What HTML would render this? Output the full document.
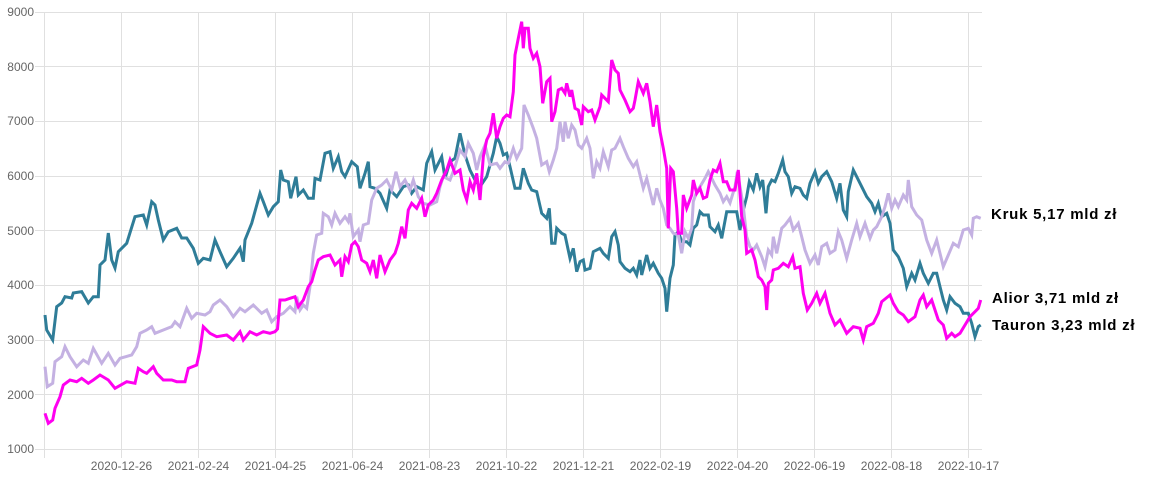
<!DOCTYPE html>
<html>
<head>
<meta charset="utf-8">
<style>
html,body{margin:0;padding:0;background:#fff;}
body{width:1150px;height:482px;overflow:hidden;}
svg{display:block;}
.ax{font-family:"Liberation Sans",sans-serif;font-size:12px;fill:#666;}
.lb{font-family:"Liberation Sans",sans-serif;font-size:15px;font-weight:bold;fill:#000;letter-spacing:0.75px;}
</style>
</head>
<body>
<svg width="1150" height="482" viewBox="0 0 1150 482" xmlns="http://www.w3.org/2000/svg">
<g stroke="#e0e0e0" stroke-width="1" fill="none">
<line x1="35" y1="12.5" x2="982" y2="12.5"/>
<line x1="35" y1="66.5" x2="982" y2="66.5"/>
<line x1="35" y1="121.5" x2="982" y2="121.5"/>
<line x1="35" y1="176.5" x2="982" y2="176.5"/>
<line x1="35" y1="230.5" x2="982" y2="230.5"/>
<line x1="35" y1="285.5" x2="982" y2="285.5"/>
<line x1="35" y1="340.5" x2="982" y2="340.5"/>
<line x1="35" y1="394.5" x2="982" y2="394.5"/>
<line x1="35" y1="449.5" x2="982" y2="449.5"/>
<line x1="44.5" y1="12" x2="44.5" y2="458"/>
<line x1="121.5" y1="12" x2="121.5" y2="458"/>
<line x1="198.5" y1="12" x2="198.5" y2="458"/>
<line x1="275.5" y1="12" x2="275.5" y2="458"/>
<line x1="352.5" y1="12" x2="352.5" y2="458"/>
<line x1="429.5" y1="12" x2="429.5" y2="458"/>
<line x1="506.5" y1="12" x2="506.5" y2="458"/>
<line x1="583.5" y1="12" x2="583.5" y2="458"/>
<line x1="660.5" y1="12" x2="660.5" y2="458"/>
<line x1="737.5" y1="12" x2="737.5" y2="458"/>
<line x1="814.5" y1="12" x2="814.5" y2="458"/>
<line x1="891.5" y1="12" x2="891.5" y2="458"/>
<line x1="968.5" y1="12" x2="968.5" y2="458"/>
</g>
<g class="ax" text-anchor="end">
<text x="34" y="16">9000</text>
<text x="34" y="71">8000</text>
<text x="34" y="125">7000</text>
<text x="34" y="180">6000</text>
<text x="34" y="235">5000</text>
<text x="34" y="289">4000</text>
<text x="34" y="344">3000</text>
<text x="34" y="399">2000</text>
<text x="34" y="453">1000</text>
</g>
<g class="ax" text-anchor="middle">
<text x="121.5" y="470">2020-12-26</text>
<text x="198.5" y="470">2021-02-24</text>
<text x="275.5" y="470">2021-04-25</text>
<text x="352.5" y="470">2021-06-24</text>
<text x="429.5" y="470">2021-08-23</text>
<text x="506.5" y="470">2021-10-22</text>
<text x="583.5" y="470">2021-12-21</text>
<text x="660.5" y="470">2022-02-19</text>
<text x="737.5" y="470">2022-04-20</text>
<text x="814.5" y="470">2022-06-19</text>
<text x="891.5" y="470">2022-08-18</text>
<text x="968.5" y="470">2022-10-17</text>
</g>
<g fill="none" stroke-width="3" stroke-linejoin="miter" stroke-miterlimit="4">
<polyline stroke="#2f7d98" points="45,315 46.7,330 52.7,340 56.7,306.7 61.7,303 65,296.7 71.7,298 73.3,293 81.7,291.7 88.3,303 93.3,296.7 98.3,296.7 100,265 105,260 108.3,233 111.7,260 115,268 118.3,251.7 126.7,243.3 135,216.7 143.3,215 146.7,225 151.7,201.7 155,205 158.3,220 163.3,240 168.3,231.7 176.7,228.3 181.7,238 186.7,238 193.3,248.3 198.3,263.3 203.3,258.3 210,260 215,240 220,251.7 226.7,266.7 233.3,258.3 240,248.3 243.3,261.7 245,240 251.7,223.3 260,193.3 263.3,201.7 268.3,215 273.3,206.7 278.3,201.7 280.7,170 283.3,180 288.3,181.7 290.7,198.3 296,176.7 298.3,195 303.3,190 308.3,198.3 313.3,198.3 315,178.3 320,180 325,153.3 330,151.7 333.3,168.3 338.3,156.7 341.7,171.7 345,176.7 351.7,161.7 357.3,166.7 360,188.3 365,173.3 368.3,161.7 370,186.7 375,188.3 380,193.3 386.7,208.3 390,190 396.7,196.7 403.3,186.7 408.3,185 411.7,193.3 416.7,186.7 423.3,190 426.7,163.3 431.7,151.7 435,170 441.7,156.7 445,178.3 450,161.7 455,158.3 460,133.3 465,155 470,170 475,180 480,186.7 486.7,176.7 493.3,153.3 496.7,136.7 500,143.3 503.3,155 506.7,153.3 510,166.7 515,188.3 520,188.3 523.3,168.3 528.3,183.3 531.7,190 536.7,191.7 541.7,213.3 546.7,218.3 549.3,208.3 551.7,243.3 555,243.3 556.7,228.3 561.7,233.3 565,235 570,258.3 573.3,248.3 576.7,271.7 580,261.7 583.3,260 585,270 590,268.3 593.3,251.7 600,248.3 603.3,253.3 608.3,258.3 611.7,236.7 615,231.7 618.3,245 620,261.7 625,268.3 630,271.7 633.3,268.3 636.7,275 640,260 641.7,275 646.7,255 650,268.3 653.3,263.3 658.3,273.3 661.7,278.3 665,288.3 666.7,311.7 670,278.3 673.3,265 675,235 678.3,231.7 681.7,241.7 686.7,241.7 690,245 693.3,228.3 696.7,225 700,211.7 703.3,215 708.3,215 710,226.7 715,231.7 718.3,225 721.7,238.3 726.7,211.7 730,211.7 736.7,211.7 740,230 743.3,210 746.7,196.7 749.3,181.7 753.3,190 756.7,173.3 760,186.7 762.7,180 766,213.3 768.3,186.7 771.7,180 775,181.7 778.3,173.3 782.7,160 785,171.7 788.3,176.7 791.7,193.3 795,186.7 800,188.3 803.3,195 806.7,198.3 810,183.3 815,171.7 818.3,183.3 821.7,176.7 826.7,171.7 831.7,181.7 836.7,198.3 840,183.3 843.3,210 846.7,216.7 848.3,191.7 853.3,170 856.7,176.7 861.7,186.7 866.7,196.7 871.7,203.3 875,211.7 878.3,203.3 881.7,216.7 886.7,213.3 890,223.3 893.3,250 898.3,256.7 903.3,268.3 906.7,286.7 911.7,273.3 915,280 920,263.3 923.3,273.3 928.3,283.3 933.3,273.3 936.7,273.3 940,286.7 943.3,300 946.7,310 950,296.7 955,303.3 960,306.7 963.3,313.3 968.3,313.3 971.7,323.3 975,336.7 978.3,326.7 980.7,325"/>
<polyline stroke="#c4b1e2" points="45,366.7 47.3,386.7 52.7,383.3 55,361.7 61.7,356.7 65,346.7 70,356.7 76.7,366.7 83.3,360 88.3,363.3 93.3,348.3 101.7,363.3 108.3,353.3 115,365 120,358.3 131.7,355 136.7,346.7 140,333.3 146.7,330 151.7,326.7 155,333.3 163.3,330 171.7,326.7 175,321.7 180,326.7 186.7,308.3 191.7,318.3 196.7,313.3 205,315 210,311.7 213.3,305 220,300 226.7,306.7 233.3,316.7 240,308.3 245,311.7 253.3,305 261.7,313.3 266.7,310 271.7,321.7 276.7,316.7 283.3,313.3 290,306.7 295,311.7 296.7,296.7 300,310 303.3,305 306.7,308.3 310,286.7 313.3,253.3 316.7,235 321.7,233.3 323.3,213.3 328.3,216.7 331.7,225 335,213.3 340,223.3 345,216.7 348.3,221.7 350,213.3 353.3,236.7 358.3,230 360,241.7 363.3,225 368.3,223.3 371.7,200 376.7,188.3 381.7,185 386.7,180 391.7,190 396,171.7 400,186.7 405,180 410,190 413.3,180 418.3,196.7 423.3,203.3 430,205 436.7,201.7 440,186.7 443.3,176.7 450,180 455,166.7 460,150 465,156.7 468.3,143.3 473.3,153.3 476.7,170 480,156.7 485,145 490,165 496.7,163.3 500,168.3 505,161.7 508.3,163.3 513.3,148.3 516.7,158.3 521.7,148.3 524,105 528.3,115 533.3,128.3 536.7,138.3 541.7,165 546.7,161.7 549.3,171.7 553.3,160 556.7,148.3 560,121.7 563.3,141.7 565,121.7 568.3,138.3 571.7,125 575,130 578.3,145 581.7,148.3 586.7,138.3 590,148.3 593.3,178.3 596.7,161.7 600,168.3 603.3,151.7 608.3,166.7 611.7,150 615,148.3 620,138.3 623.3,146.7 628.3,158.3 633.3,166.7 636.7,161.7 640,175 643.3,188.3 646.7,178.3 650,191.7 653.3,205 656.7,188.3 660,200 663.3,208.3 666.7,225 670,228.3 673.3,233.3 678.3,235 681.7,253.3 685,231.7 688.3,238.3 691.7,228.3 693.3,201.7 696.7,191.7 700,186.7 705,178.3 708.3,171.7 711.7,178.3 715,185 720,193.3 723.3,201.7 726.7,196.7 730,203 735,186.7 737.3,171.7 740,186.7 743.3,206.7 746.7,236.7 750,246.7 753.3,250 756.7,245 761.7,256.7 765,266.7 768.3,250 771.7,255 773.3,236.7 776.7,253.3 781.7,228.3 785,225 790,218.3 793.3,230 798.3,223.3 801.7,236.7 805,250 810,263.3 815,255 818.3,265 821.7,246.7 826.7,243.3 830,253.3 835,250 838.3,231.7 841.7,240 846.7,258.3 851.7,240 856.7,223.3 860,236.7 865,223.3 870,238.3 873.3,230 876.7,226.7 881.7,216.7 885,206.7 888.3,193.3 891.7,208.3 895,200 898.3,206.7 903.3,195 906.7,200 908.3,180 911.7,206.7 916.7,215 921.7,220 926.7,240 931.7,253.3 936.7,240 940,253.3 943.3,266.7 948.3,255 953.3,243.3 958.3,246.7 963.3,230 968.3,228.3 971.7,235 973.3,218.3 976.7,216.7 980.7,218.3"/>
<polyline stroke="#ff00f0" points="45,413.3 48.3,423.3 52.7,420 55,408.3 60,396.7 63.3,385 70,380 76.7,381.7 81.7,378.3 88.3,383.3 93.3,380 100,375 108.3,380 115,388.3 126.7,381.7 135,383.3 138.3,368.3 143.3,371.7 146.7,373.3 153.3,366.7 156.7,373.3 163.3,380 171.7,380 176.7,381.7 185,381.7 188.3,368.3 196.7,365 200,350 203.3,326.7 210,333.3 216.7,336.7 226.7,335 233.3,340 240,331.7 243.3,340 250,331.7 256.7,335 263.3,331.7 270,333.3 275,331.7 277.5,329 280,300 285,300 290,298.3 295,296.7 298.3,306.7 303.3,300 308.3,286.7 311.7,281.7 315,270 318.3,260 323.3,256.7 330,255 335,265 340,260 341.7,276.7 345,256.7 348.3,261.7 351.7,245 355,241.7 358.3,246.7 361.7,260 366.7,263.3 370,271.7 373.3,260 376.7,278.3 380,255 385,271.7 390,260 395,253.3 398.3,243.3 401.7,226.7 405,238.3 408.3,210 411.7,203.3 416.7,208.3 421.7,198.3 425,216.7 428.3,205 433.3,200 436.7,193.3 441.7,180 446.7,170 450,160 455,173.3 460,170 463.3,190 466.7,200 470,181.7 473.3,190 476.7,173.3 480,200 483.3,156.7 486.7,140 490,133.3 493.3,113.3 496.7,138.3 500,126.7 503.3,118.3 506.7,115 510,116.7 513.3,91.7 515,55 518.3,38.3 521.7,21.7 523.3,48.3 525,28.3 528.3,28.3 530,48.3 533.3,58.3 536.7,53.3 540,66.7 542.7,103.3 546.7,81.7 550,78.3 551.7,121.7 555,111.7 558.3,90 561.7,88.3 565,93.3 566.7,83.3 570,96.7 571.7,90 575,108.3 578.3,110 581.7,125 583.3,106.7 588.3,111.7 591.7,110 595,120 600,106.7 601.7,95 608.3,101.7 611.7,60 615,70 618.3,73.3 620,90 625,100 630,111.7 633.3,108.3 635,100 638.3,81.7 643.3,93.3 646.7,83.3 650,101.7 653.3,126.7 656.7,105 660,131.7 663.3,148.3 666.7,168.3 668.3,228.3 670.7,168.3 673.3,171.7 676.7,208.3 678.3,233.3 681.7,233.3 683.3,195 686.7,208.3 691.7,195 693.3,180 696.7,193.3 700,188.3 703.3,198.3 706.7,196.7 710,180 713.3,170 716.7,171.7 720,163.3 723.3,181.7 726.7,181.7 730,190 735,190 738.3,170 741.7,216.7 745,230 746.7,253.3 751.7,250 755,260 758.3,276.7 761.7,280 765,286.7 766.7,310 768.3,283.3 771.7,280 773.3,270 778.3,268.3 783.3,263.3 788.3,266.7 792.7,256.7 795,268.3 800,266.7 803.3,293.3 807.3,310 811.7,303.3 816.7,293.3 820,303.3 825,293.3 830,313.3 835,325 840,320 846.7,333.3 853.3,326.7 860,328.3 863.3,340 866.7,326.7 873.3,323.3 878.3,313.3 881.7,301.7 890,295 893.3,303.3 898.3,311.7 903.3,315 908.3,321.7 915,316.7 920,300 923.3,295 926.7,306.7 931.7,300 935,310 938.3,320 943.3,325 946.7,338.3 951.7,333.3 955,336.7 960,333.3 965,325 970,316.7 975,311.7 978.3,308.3 980.7,300"/>
</g>
<text class="lb" x="991" y="219">Kruk 5,17 mld zł</text>
<text class="lb" x="992" y="303">Alior 3,71 mld zł</text>
<text class="lb" x="992" y="330">Tauron 3,23 mld zł</text>
</svg>
</body>
</html>
